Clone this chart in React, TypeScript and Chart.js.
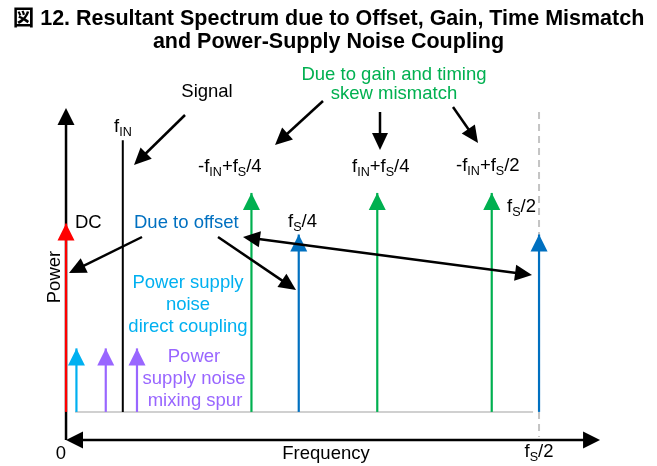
import React, { useEffect, useRef } from "react";
import { Chart, registerables } from "chart.js";

Chart.register(...registerables);

// ---------------- data ----------------
// Spectral components (frequency in units where fs = 1000, so fs/2 = 500; power relative, strongest spur = 100)
const componentNames = [
  "DC",
  "PS noise direct coupling",
  "PS noise mixing spur 1",
  "Signal fIN",
  "PS noise mixing spur 2",
  "-fIN+fS/4",
  "fS/4",
  "fIN+fS/4",
  "-fIN+fS/2",
  "fS/2",
];
const componentFreqs = [0, 11, 42, 60, 75, 196, 246, 329, 450, 500];
const componentPowers = [86, 29, 29, 124, 29, 100, 81, 100, 100, 81];
const componentSources = [
  "dc",
  "psDirect",
  "psMixing",
  "signal",
  "psMixing",
  "gainTiming",
  "offset",
  "gainTiming",
  "gainTiming",
  "offset",
];

// Frequency axis tick labels
const freqTickValues = [0, 500];
const freqTickLabels = ["0", "f_{S}/2"];

// ---------------- styles / layout ----------------
const FONT = "Arial, 'Liberation Sans', 'Noto Sans CJK JP', sans-serif";
const BLACK = "#000000";
const BLUE = "#0070C0";
const GREEN = "#00B050";
const CYAN = "#00B0F0";
const PURPLE = "#9966FF";
const SOURCE_COLORS: Record<string, string> = {
  dc: "#FF0000",
  psDirect: CYAN,
  psMixing: PURPLE,
  signal: BLACK,
  gainTiming: GREEN,
  offset: BLUE,
};

const VIEW = { xMin: -69.8, xMax: 624.7, yMin: -24.7, yMax: 188.1 };
const AXIS = { yPos: -12.8, xEnd: 564.5, yEnd: 138.8 };
const BASELINE = { from: 9.5, to: 493.7 };
const NYQUIST = { x: 500, from: -11.4, to: 137 };

const TITLE_LINES = [
  "図 12. Resultant Spectrum due to Offset, Gain, Time Mismatch",
  "and Power-Supply Noise Coupling",
];

type Txt = {
  t: string;
  x: number;
  y: number;
  align?: CanvasTextAlign;
  color?: string;
  rot?: boolean;
};
const TEXTS: Txt[] = [
  { t: "Signal", x: 207, y: 97, align: "center" },
  { t: "f_{IN}", x: 114, y: 132 },
  { t: "-f_{IN}+f_{S}/4", x: 198, y: 172 },
  { t: "f_{IN}+f_{S}/4", x: 352, y: 172 },
  { t: "-f_{IN}+f_{S}/2", x: 456, y: 171 },
  { t: "f_{S}/4", x: 288, y: 227 },
  { t: "f_{S}/2", x: 507, y: 212 },
  { t: "DC", x: 75, y: 228 },
  { t: "Due to offset", x: 134, y: 228, color: BLUE },
  { t: "Due to gain and timing", x: 394, y: 80, align: "center", color: GREEN },
  { t: "skew mismatch", x: 394, y: 99, align: "center", color: GREEN },
  { t: "Power supply", x: 188, y: 288, align: "center", color: CYAN },
  { t: "noise", x: 188, y: 310, align: "center", color: CYAN },
  { t: "direct coupling", x: 188, y: 332, align: "center", color: CYAN },
  { t: "Power", x: 194, y: 362, align: "center", color: PURPLE },
  { t: "supply noise", x: 194, y: 384, align: "center", color: PURPLE },
  { t: "mixing spur", x: 195, y: 406, align: "center", color: PURPLE },
  { t: "Frequency", x: 326, y: 459, align: "center" },
  { t: "Power", x: 60, y: 277, align: "center", rot: true },
];

type Arr = { from: [number, number]; to: [number, number]; both?: boolean };
const ARROWS: Arr[] = [
  { from: [185, 115], to: [134, 165] },
  { from: [323, 101], to: [275, 145] },
  { from: [380, 112], to: [380, 150] },
  { from: [453, 107], to: [478, 143] },
  { from: [142, 237], to: [69, 273] },
  { from: [218, 237], to: [296, 290] },
  { from: [243, 237], to: [532, 275], both: true },
];

const LABEL_SIZE = 18.5;

// ---------------- drawing helpers ----------------
function parseRich(s: string): [string, boolean][] {
  const out: [string, boolean][] = [];
  const re = /_\{([^}]*)\}/g;
  let last = 0;
  let m: RegExpExecArray | null;
  while ((m = re.exec(s))) {
    if (m.index > last) out.push([s.slice(last, m.index), false]);
    out.push([m[1], true]);
    last = m.index + m[0].length;
  }
  if (last < s.length) out.push([s.slice(last), false]);
  return out;
}

function drawRich(
  ctx: CanvasRenderingContext2D,
  s: string,
  x: number,
  y: number,
  align: CanvasTextAlign,
  color: string,
  size: number
) {
  const segs = parseRich(s);
  const main = `${size}px ${FONT}`;
  const sub = `${size * 0.68}px ${FONT}`;
  let w = 0;
  for (const [t, isSub] of segs) {
    ctx.font = isSub ? sub : main;
    w += ctx.measureText(t).width;
  }
  let cx = align === "center" ? x - w / 2 : align === "right" ? x - w : x;
  ctx.fillStyle = color;
  ctx.textAlign = "left";
  ctx.textBaseline = "alphabetic";
  for (const [t, isSub] of segs) {
    ctx.font = isSub ? sub : main;
    ctx.fillText(t, cx, isSub ? y + size * 0.2 : y);
    cx += ctx.measureText(t).width;
  }
}

function head(
  ctx: CanvasRenderingContext2D,
  tx: number,
  ty: number,
  fx: number,
  fy: number,
  len: number,
  wid: number,
  color: string
) {
  const dx = tx - fx;
  const dy = ty - fy;
  const d = Math.hypot(dx, dy) || 1;
  const ux = dx / d;
  const uy = dy / d;
  const bx = tx - ux * len;
  const by = ty - uy * len;
  const nx = -uy;
  const ny = ux;
  ctx.fillStyle = color;
  ctx.beginPath();
  ctx.moveTo(tx, ty);
  ctx.lineTo(bx + (nx * wid) / 2, by + (ny * wid) / 2);
  ctx.lineTo(bx - (nx * wid) / 2, by - (ny * wid) / 2);
  ctx.closePath();
  ctx.fill();
}

function seg(
  ctx: CanvasRenderingContext2D,
  x1: number,
  y1: number,
  x2: number,
  y2: number,
  color: string,
  w: number,
  dash: number[] = []
) {
  ctx.strokeStyle = color;
  ctx.lineWidth = w;
  ctx.setLineDash(dash);
  ctx.beginPath();
  ctx.moveTo(x1, y1);
  ctx.lineTo(x2, y2);
  ctx.stroke();
  ctx.setLineDash([]);
}

const diagramPlugin = {
  id: "diagram",
  beforeDatasetsDraw(chart: any) {
    const { ctx } = chart;
    const xs = chart.scales.x;
    const ys = chart.scales.y;
    const px = (v: number) => xs.getPixelForValue(v);
    const py = (v: number) => ys.getPixelForValue(v);
    ctx.save();
    // baseline
    seg(ctx, px(BASELINE.from), py(0), px(BASELINE.to), py(0), "#D0D0D0", 2);
    // Nyquist dashed line
    seg(ctx, px(NYQUIST.x), py(NYQUIST.to), px(NYQUIST.x), py(NYQUIST.from), "#C4C4C4", 2, [7, 5]);
    // Power axis
    seg(ctx, px(0), py(AXIS.yPos), px(0), py(AXIS.yEnd) + 10, BLACK, 2.5);
    head(ctx, px(0), py(AXIS.yEnd), px(0), py(0), 17, 17, BLACK);
    // Frequency axis (double arrow)
    seg(ctx, px(0) + 10, py(AXIS.yPos), px(AXIS.xEnd) - 10, py(AXIS.yPos), BLACK, 2.5);
    head(ctx, px(AXIS.xEnd), py(AXIS.yPos), px(0), py(AXIS.yPos), 17, 17, BLACK);
    head(ctx, px(0), py(AXIS.yPos), px(AXIS.xEnd), py(AXIS.yPos), 17, 17, BLACK);
    ctx.restore();
  },
  afterDatasetsDraw(chart: any) {
    const { ctx } = chart;
    ctx.save();
    chart.data.datasets.forEach((ds: any, i: number) => {
      if (!ds.arrowHead) return;
      const meta = chart.getDatasetMeta(i);
      const top = meta.data[1];
      const bot = meta.data[0];
      head(ctx, top.x, top.y, bot.x, bot.y, 17, 17, ds.borderColor);
    });
    ctx.restore();
  },
  afterDraw(chart: any) {
    const { ctx } = chart;
    const xs = chart.scales.x;
    const ys = chart.scales.y;
    ctx.save();
    // title
    ctx.fillStyle = BLACK;
    ctx.textAlign = "center";
    ctx.textBaseline = "alphabetic";
    ctx.font = `bold 21.5px ${FONT}`;
    TITLE_LINES.forEach((l, i) => ctx.fillText(l, chart.width / 2, 25 + i * 23));

    // frequency tick labels
    freqTickValues.forEach((v, i) => {
      const x = xs.getPixelForValue(v);
      const y = ys.getPixelForValue(AXIS.yPos) + (v === 0 ? 19 : 17);
      drawRich(ctx, freqTickLabels[i], x, y, v === 0 ? "right" : "center", BLACK, LABEL_SIZE);
    });

    // texts
    for (const t of TEXTS) {
      if (t.rot) {
        ctx.save();
        ctx.translate(t.x, t.y);
        ctx.rotate(-Math.PI / 2);
        drawRich(ctx, t.t, 0, 0, t.align || "left", t.color || BLACK, LABEL_SIZE);
        ctx.restore();
      } else {
        drawRich(ctx, t.t, t.x, t.y, t.align || "left", t.color || BLACK, LABEL_SIZE);
      }
    }

    // annotation arrows
    for (const a of ARROWS) {
      const [fx, fy] = a.from;
      const [tx, ty] = a.to;
      const d = Math.hypot(tx - fx, ty - fy);
      const ux = (tx - fx) / d;
      const uy = (ty - fy) / d;
      const sx = a.both ? fx + ux * 10 : fx;
      const sy = a.both ? fy + uy * 10 : fy;
      seg(ctx, sx, sy, tx - ux * 10, ty - uy * 10, BLACK, 2.5);
      head(ctx, tx, ty, fx, fy, 17, 16, BLACK);
      if (a.both) head(ctx, fx, fy, tx, ty, 17, 16, BLACK);
    }
    ctx.restore();
  },
};

export default function App() {
  const ref = useRef<HTMLCanvasElement>(null);
  useEffect(() => {
    if (!ref.current) return;
    const datasets = componentFreqs.map((f, i) => ({
      label: componentNames[i],
      data: [
        { x: f, y: 0 },
        { x: f, y: componentPowers[i] },
      ],
      showLine: true,
      borderColor: SOURCE_COLORS[componentSources[i]],
      backgroundColor: SOURCE_COLORS[componentSources[i]],
      borderWidth: componentSources[i] === "signal" ? 2 : 2.2,
      pointRadius: 0,
      pointHoverRadius: 0,
      clip: false,
      arrowHead: componentSources[i] !== "signal",
    }));
    const chart = new Chart(ref.current, {
      type: "scatter",
      data: { datasets: datasets as any },
      options: {
        animation: false,
        responsive: false,
        events: [],
        layout: { padding: 0 },
        plugins: {
          legend: { display: false },
          tooltip: { enabled: false },
          title: { display: false },
        },
        scales: {
          x: { type: "linear", display: false, min: VIEW.xMin, max: VIEW.xMax },
          y: { type: "linear", display: false, min: VIEW.yMin, max: VIEW.yMax },
        },
      },
      plugins: [diagramPlugin as any],
    });
    return () => chart.destroy();
  }, []);
  return (
    <div style={{ position: "absolute", left: 0, top: 0, width: 657, height: 466, background: "#fff" }}>
      <canvas ref={ref} width={657} height={466} style={{ display: "block" }} />
    </div>
  );
}
